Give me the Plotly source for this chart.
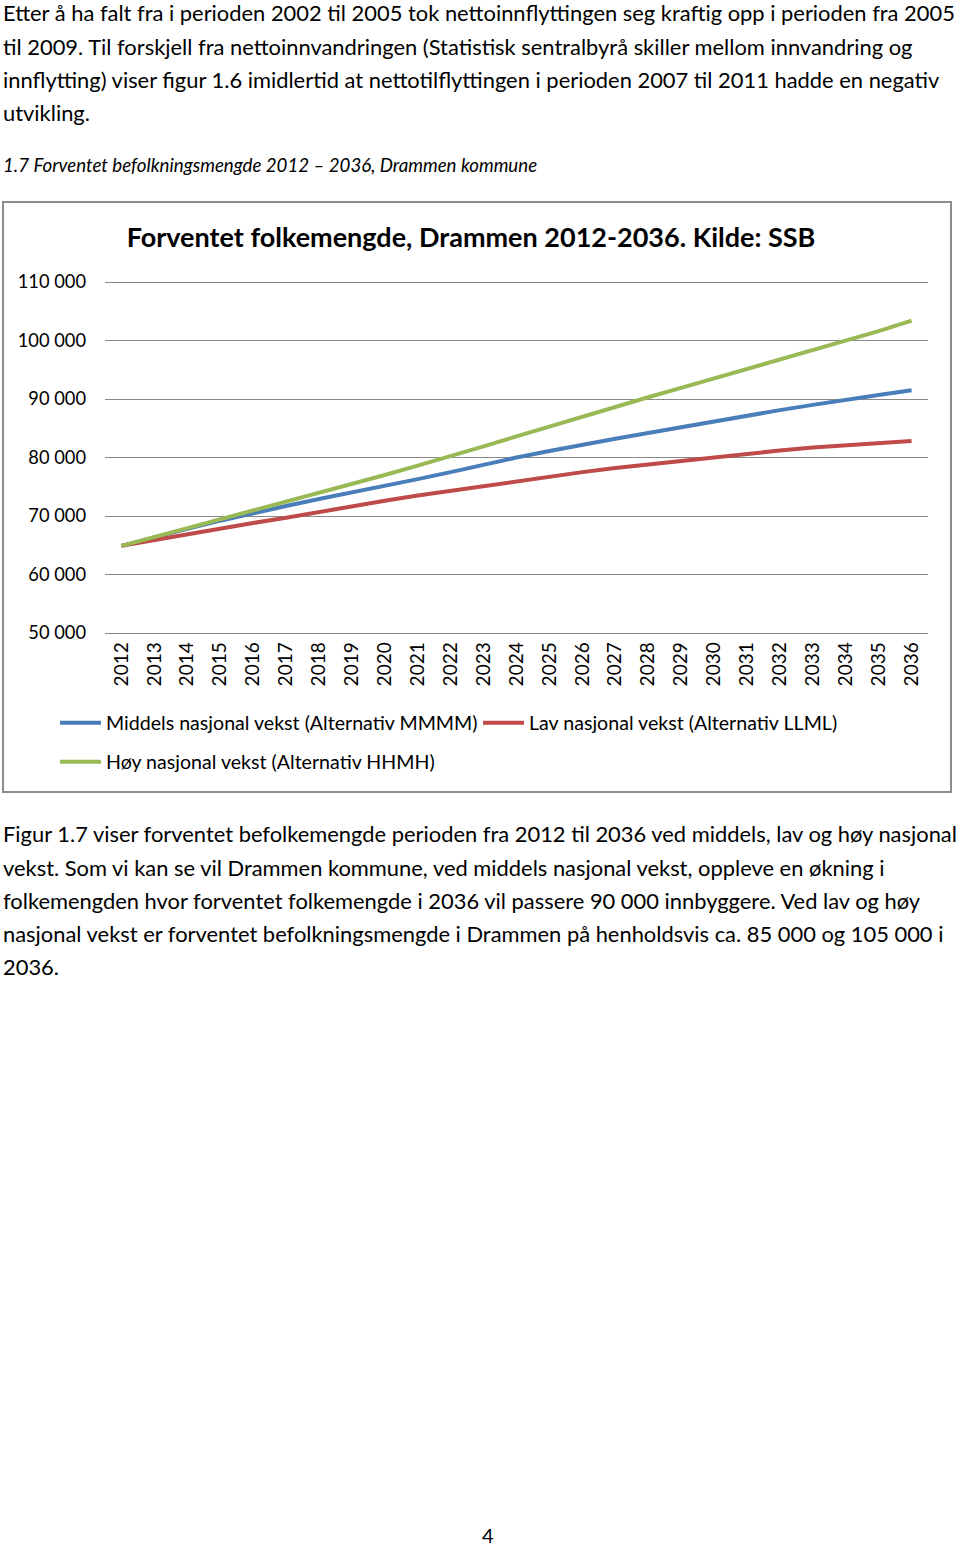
import plotly.graph_objects as go

W, H = 960, 1548

years = [str(y) for y in range(2012, 2037)]
middels = [64.9, 66.4, 67.8, 69.2, 70.5, 71.7, 72.9, 74.0, 75.1, 76.3, 77.5, 78.8, 80.0,
           81.1, 82.2, 83.2, 84.2, 85.2, 86.2, 87.2, 88.1, 89.0, 89.9, 90.7, 91.5]
lav = [64.9, 65.9, 66.9, 67.8, 68.8, 69.7, 70.7, 71.6, 72.6, 73.5, 74.3, 75.1, 76.0,
       76.8, 77.5, 78.2, 78.8, 79.5, 80.1, 80.7, 81.2, 81.7, 82.1, 82.5, 82.8]
hoy = [64.9, 66.4, 67.9, 69.4, 71.0, 72.5, 74.0, 75.5, 77.0, 78.6, 80.2, 81.9, 83.6,
       85.3, 87.0, 88.6, 90.3, 91.9, 93.5, 95.1, 96.7, 98.3, 99.9, 101.6, 103.4]
middels = [v * 1000 for v in middels]
lav = [v * 1000 for v in lav]
hoy = [v * 1000 for v in hoy]

series_names = ["Middels nasjonal vekst (Alternativ MMMM)",
                "Lav nasjonal vekst (Alternativ LLML)",
                "Høy nasjonal vekst (Alternativ HHMH)"]
y_ticks = [50000, 60000, 70000, 80000, 90000, 100000, 110000]
y_ticktext = ["50 000", "60 000", "70 000", "80 000", "90 000", "100 000", "110 000"]

title_text = "Forventet folkemengde, Drammen 2012-2036. Kilde: SSB"
para1 = ["Etter å ha falt fra i perioden 2002 til 2005 tok nettoinnflyttingen seg kraftig opp i perioden fra 2005",
         "til 2009. Til forskjell fra nettoinnvandringen (Statistisk sentralbyrå skiller mellom innvandring og",
         "innflytting) viser figur 1.6 imidlertid at nettotilflyttingen i perioden 2007 til 2011 hadde en negativ",
         "utvikling."]
caption = "1.7 Forventet befolkningsmengde 2012 – 2036, Drammen kommune"
para2 = ["Figur 1.7 viser forventet befolkemengde perioden fra 2012 til 2036 ved middels, lav og høy nasjonal",
         "vekst. Som vi kan se vil Drammen kommune, ved middels nasjonal vekst, oppleve en økning i",
         "folkemengden hvor forventet folkemengde i 2036 vil passere 90 000 innbyggere. Ved lav og høy",
         "nasjonal vekst er forventet befolkningsmengde i Drammen på henholdsvis ca. 85 000 og 105 000 i",
         "2036."]
page_no = "4"

FONT = "Lato"

def px(x):
    return x / W

def py(y):
    return 1 - y / H

fig = go.Figure()
fig.add_trace(go.Scatter(x=years, y=middels, mode="lines", name=series_names[0],
                         line=dict(color="#4a7ebb", width=4), legend="legend"))
fig.add_trace(go.Scatter(x=years, y=lav, mode="lines", name=series_names[1],
                         line=dict(color="#be4b48", width=4), legend="legend"))
fig.add_trace(go.Scatter(x=years, y=hoy, mode="lines", name=series_names[2],
                         line=dict(color="#98b954", width=4), legend="legend2"))

plot_top, plot_bot = 282, 633
plot_left, plot_right = 105, 928
pad_units = 600
units_per_px = 60000 / (plot_bot - plot_top)
pad_px = pad_units / units_per_px

annotations = []
for i, line in enumerate(para1):
    annotations.append(dict(text=line, x=px(1), y=py(13 + 33.2 * i), xref="paper", yref="paper",
                            xanchor="left", yanchor="middle", showarrow=False,
                            font=dict(family=FONT, size=21.9, color="#000")))
annotations.append(dict(text="<i>" + caption + "</i>", x=px(1), y=py(165), xref="paper", yref="paper",
                        xanchor="left", yanchor="middle", showarrow=False,
                        font=dict(family=FONT, size=18.7, color="#000")))
for i, line in enumerate(para2):
    annotations.append(dict(text=line, x=px(1), y=py(834 + 33.2 * i), xref="paper", yref="paper",
                            xanchor="left", yanchor="middle", showarrow=False,
                            font=dict(family=FONT, size=21.9, color="#000")))
annotations.append(dict(text=page_no, x=px(488), y=py(1535), xref="paper", yref="paper",
                        xanchor="center", yanchor="middle", showarrow=False, borderpad=0,
                        font=dict(family=FONT, size=20, color="#000")))

fig.update_layout(
    template="none",
    width=W, height=H,
    margin=dict(l=0, r=0, t=0, b=0, pad=0, autoexpand=False),
    paper_bgcolor="white", plot_bgcolor="white",
    font=dict(family=FONT, color="#000"),
    title=dict(text="<b>" + title_text + "</b>", x=px(471), y=py(238), xref="paper", yref="paper",
               xanchor="center", yanchor="middle", font=dict(family=FONT, size=27, color="#000")),
    xaxis=dict(domain=[px(plot_left), px(plot_right)], type="category", range=[-0.5, 24.5],
               tickangle=-90, tickfont=dict(size=19, color="#000"), showgrid=False,
               showline=False, zeroline=False, ticks="", ticklabelstandoff=1,
               automargin=False),
    yaxis=dict(domain=[py(plot_bot + pad_px), py(plot_top - pad_px)],
               range=[50000 - pad_units, 110000 + pad_units],
               tickvals=y_ticks, ticktext=y_ticktext, tickfont=dict(size=18.3, color="#000"),
               showgrid=True, gridcolor="#8a8a8a", gridwidth=1, zeroline=False,
               showline=False, ticks="", ticklabelstandoff=18, automargin=False),
    legend=dict(orientation="h", x=px(55), y=py(723), xanchor="left", yanchor="middle",
                font=dict(size=19.6, color="#000"), itemwidth=41, entrywidth=367,
                entrywidthmode="pixels", bgcolor="rgba(0,0,0,0)"),
    legend2=dict(orientation="h", x=px(55), y=py(762), xanchor="left", yanchor="middle",
                 font=dict(size=19.6, color="#000"), itemwidth=41, bgcolor="rgba(0,0,0,0)"),
    shapes=[dict(type="rect", xref="paper", yref="paper", x0=px(3), x1=px(951), y0=py(202), y1=py(792),
                 line=dict(color="#8c8c8c", width=2), fillcolor="rgba(0,0,0,0)", layer="below")],
    annotations=annotations,
    showlegend=True,
)

fig.write_html("out.html", config={"displayModeBar": False},
               post_script="document.body.style.margin='0';")
